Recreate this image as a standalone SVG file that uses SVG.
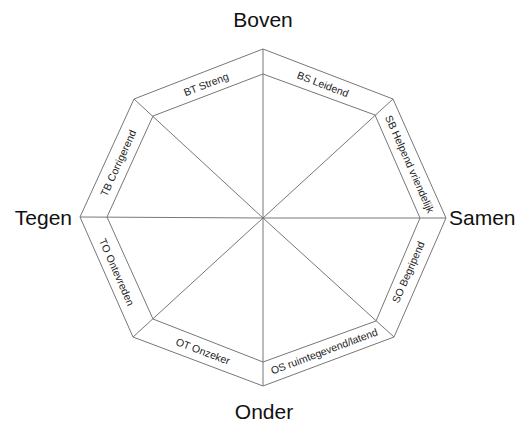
<svg xmlns="http://www.w3.org/2000/svg" width="524" height="422" viewBox="0 0 524 422">
<style>
.ln{fill:none;stroke:#777;stroke-width:1}
.big{font-family:"Liberation Sans",Arial,sans-serif;font-size:21px;fill:#111}
.lbl{font-family:"Liberation Sans",Arial,sans-serif;font-size:10.5px;fill:#222;text-anchor:middle;dominant-baseline:central}
</style>
<rect width="524" height="422" fill="#fff"/>
<g id="connectors">
<polygon class="ln" points="263,49 393,99 446,218 394,337 263,386 133,337 80,217 134,99"/>
<polygon class="ln" points="263,74 375,115 420,218 376,321 263,362 153,319 107,217 153,116"/>
<line class="ln" x1="263" y1="218" x2="263" y2="49"/>
<line class="ln" x1="263" y1="218" x2="393" y2="99"/>
<line class="ln" x1="263" y1="218" x2="446" y2="218"/>
<line class="ln" x1="263" y1="218" x2="394" y2="337"/>
<line class="ln" x1="263" y1="218" x2="263" y2="386"/>
<line class="ln" x1="263" y1="218" x2="133" y2="337"/>
<line class="ln" x1="263" y1="218" x2="80" y2="217"/>
<line class="ln" x1="263" y1="218" x2="134" y2="99"/>
</g>
<g id="boven"><text class="big" x="263" y="27" text-anchor="middle">Boven</text></g>
<g id="onder"><text class="big" x="264" y="419" text-anchor="middle">Onder</text></g>
<g id="tegen"><text class="big" x="72" y="225" text-anchor="end">Tegen</text></g>
<g id="samen"><text class="big" x="449" y="225">Samen</text></g>
<g id="bt"><text class="lbl" transform="translate(206,84) rotate(-21.2)">BT Streng</text></g>
<g id="bs"><text class="lbl" transform="translate(323,84) rotate(21)">BS Leidend</text></g>
<g id="sb"><text class="lbl" transform="translate(410,164) rotate(66)">SB Helpend vriendelijk</text></g>
<g id="so"><text class="lbl" transform="translate(408,272) rotate(-66.4)">SO Begripend</text></g>
<g id="os"><text class="lbl" transform="translate(324,351) rotate(-20.5)">OS ruimtegevend/latend</text></g>
<g id="ot"><text class="lbl" transform="translate(203,351) rotate(20.7)">OT Onzeker</text></g>
<g id="to"><text class="lbl" transform="translate(117,272) rotate(66.2)">TO Ontevreden</text></g>
<g id="tb"><text class="lbl" transform="translate(118,163) rotate(-65.5)">TB Corrigerend</text></g>
</svg>
